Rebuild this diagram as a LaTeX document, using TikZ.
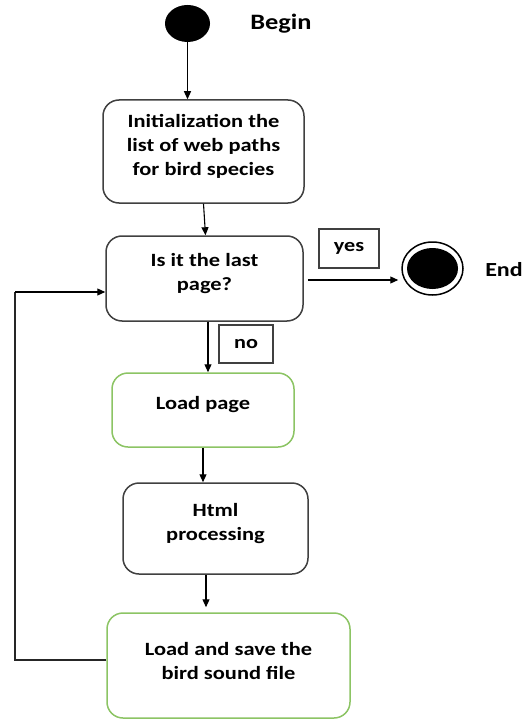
\documentclass[tikz,border=0pt]{standalone}
\usepackage{fontspec}
\setmainfont{Carlito}[FakeStretch=1.2]
\usetikzlibrary{arrows.meta,calc,shapes.geometric}
\definecolor{boxgray}{RGB}{64,64,64}
\definecolor{boxgreen}{RGB}{140,196,100}
\tikzset{
  base/.style={draw=boxgray, line width=1.5pt, rounded corners=16pt, fill=white, inner sep=0pt},
  graybox/.style={base},
  greenbox/.style={base, draw=boxgreen},
  boxtext/.style={font=\bfseries\fontsize{18.7}{24}\selectfont, align=center, yshift=5pt, inner sep=0pt},
  tagbox/.style={draw=boxgray, line width=1.2pt, font=\bfseries\fontsize{18.5}{22}\selectfont, inner sep=0pt},
  arr/.style={draw=black, line width=1.1pt, -{Triangle[length=8pt,width=7pt]}},
  plain/.style={draw=black!85, line width=1.1pt},
  bigtext/.style={font=\bfseries\fontsize{22}{26}\selectfont, inner sep=0pt},
}
\begin{document}
\begin{tikzpicture}[x=1pt,y=-1pt]
\useasboundingbox (0,0) rectangle (529,722);
% start / end
\node[ellipse, fill=black, minimum width=45pt, minimum height=37pt, inner sep=0pt] (begin) at (187.5,23.5) {};
\node[bigtext] (begintxt) at (281,24) {Begin};
\node[ellipse, draw=black, line width=1.5pt, fill=white, minimum width=61pt, minimum height=53pt, inner sep=0pt] (end) at (432.5,268.5) {};
\node[ellipse, fill=black, minimum width=51pt, minimum height=41pt, inner sep=0pt] (endin) at (end.center) {};
\node[bigtext, font=\bfseries\fontsize{20}{24}\selectfont] (endtxt) at (504,270) {End};
% boxes
\node[graybox, minimum width=201pt, minimum height=103pt,
  label={[boxtext,name=initt]center:Initialization the\\list of web paths\\for bird species}] (init) at (203.5,151.5) {};
\node[graybox, minimum width=197pt, minimum height=85pt,
  label={[boxtext,name=dect]center:Is it the last\\page?}] (dec) at (204.5,278.5) {};
\node[greenbox, minimum width=182pt, minimum height=74pt,
  label={[boxtext,name=loadpt]center:Load page}] (loadp) at (203,410) {};
\node[graybox, minimum width=185pt, minimum height=91pt,
  label={[boxtext,name=htmlt]center:Html\\processing}] (html) at (215.5,528.5) {};
\node[greenbox, minimum width=243pt, minimum height=105pt,
  label={[boxtext,name=savet]center:Load and save the\\bird sound file}] (save) at (228.5,665.5) {};
% guard tags
\node[tagbox, minimum width=60pt, minimum height=39pt] (yes) at (349,248.5) {yes};
\node[tagbox, minimum width=54pt, minimum height=38pt] (no) at (246,344) {no};
% helper coordinates
\coordinate (loopbot) at (15,660);
\coordinate (looptop) at (15,292);
\coordinate (yesstart) at ([xshift=4pt, yshift=-1.5pt]dec.east);
% connectors
\draw[arr] (begin.south) -- (begin.south |- init.north);
\draw[arr] (init.south) -- ([xshift=1pt]dec.north);
\draw[arr] ([xshift=3.5pt]dec.south) -- ([xshift=5pt]loadp.north);
\draw[arr] (loadp.south) -- (loadp.south |- html.north);
\draw[arr, shorten >=5pt] ([xshift=-9.5pt]html.south) -- ([xshift=-9.5pt]html.south |- save.north);
\draw[arr, shorten >=3pt] (yesstart) -- (end.west |- yesstart);
\draw[plain] (save.west |- loopbot) -- (loopbot) -- (looptop);
\draw[arr] (looptop) -- (dec.west |- looptop);
\end{tikzpicture}
\end{document}
